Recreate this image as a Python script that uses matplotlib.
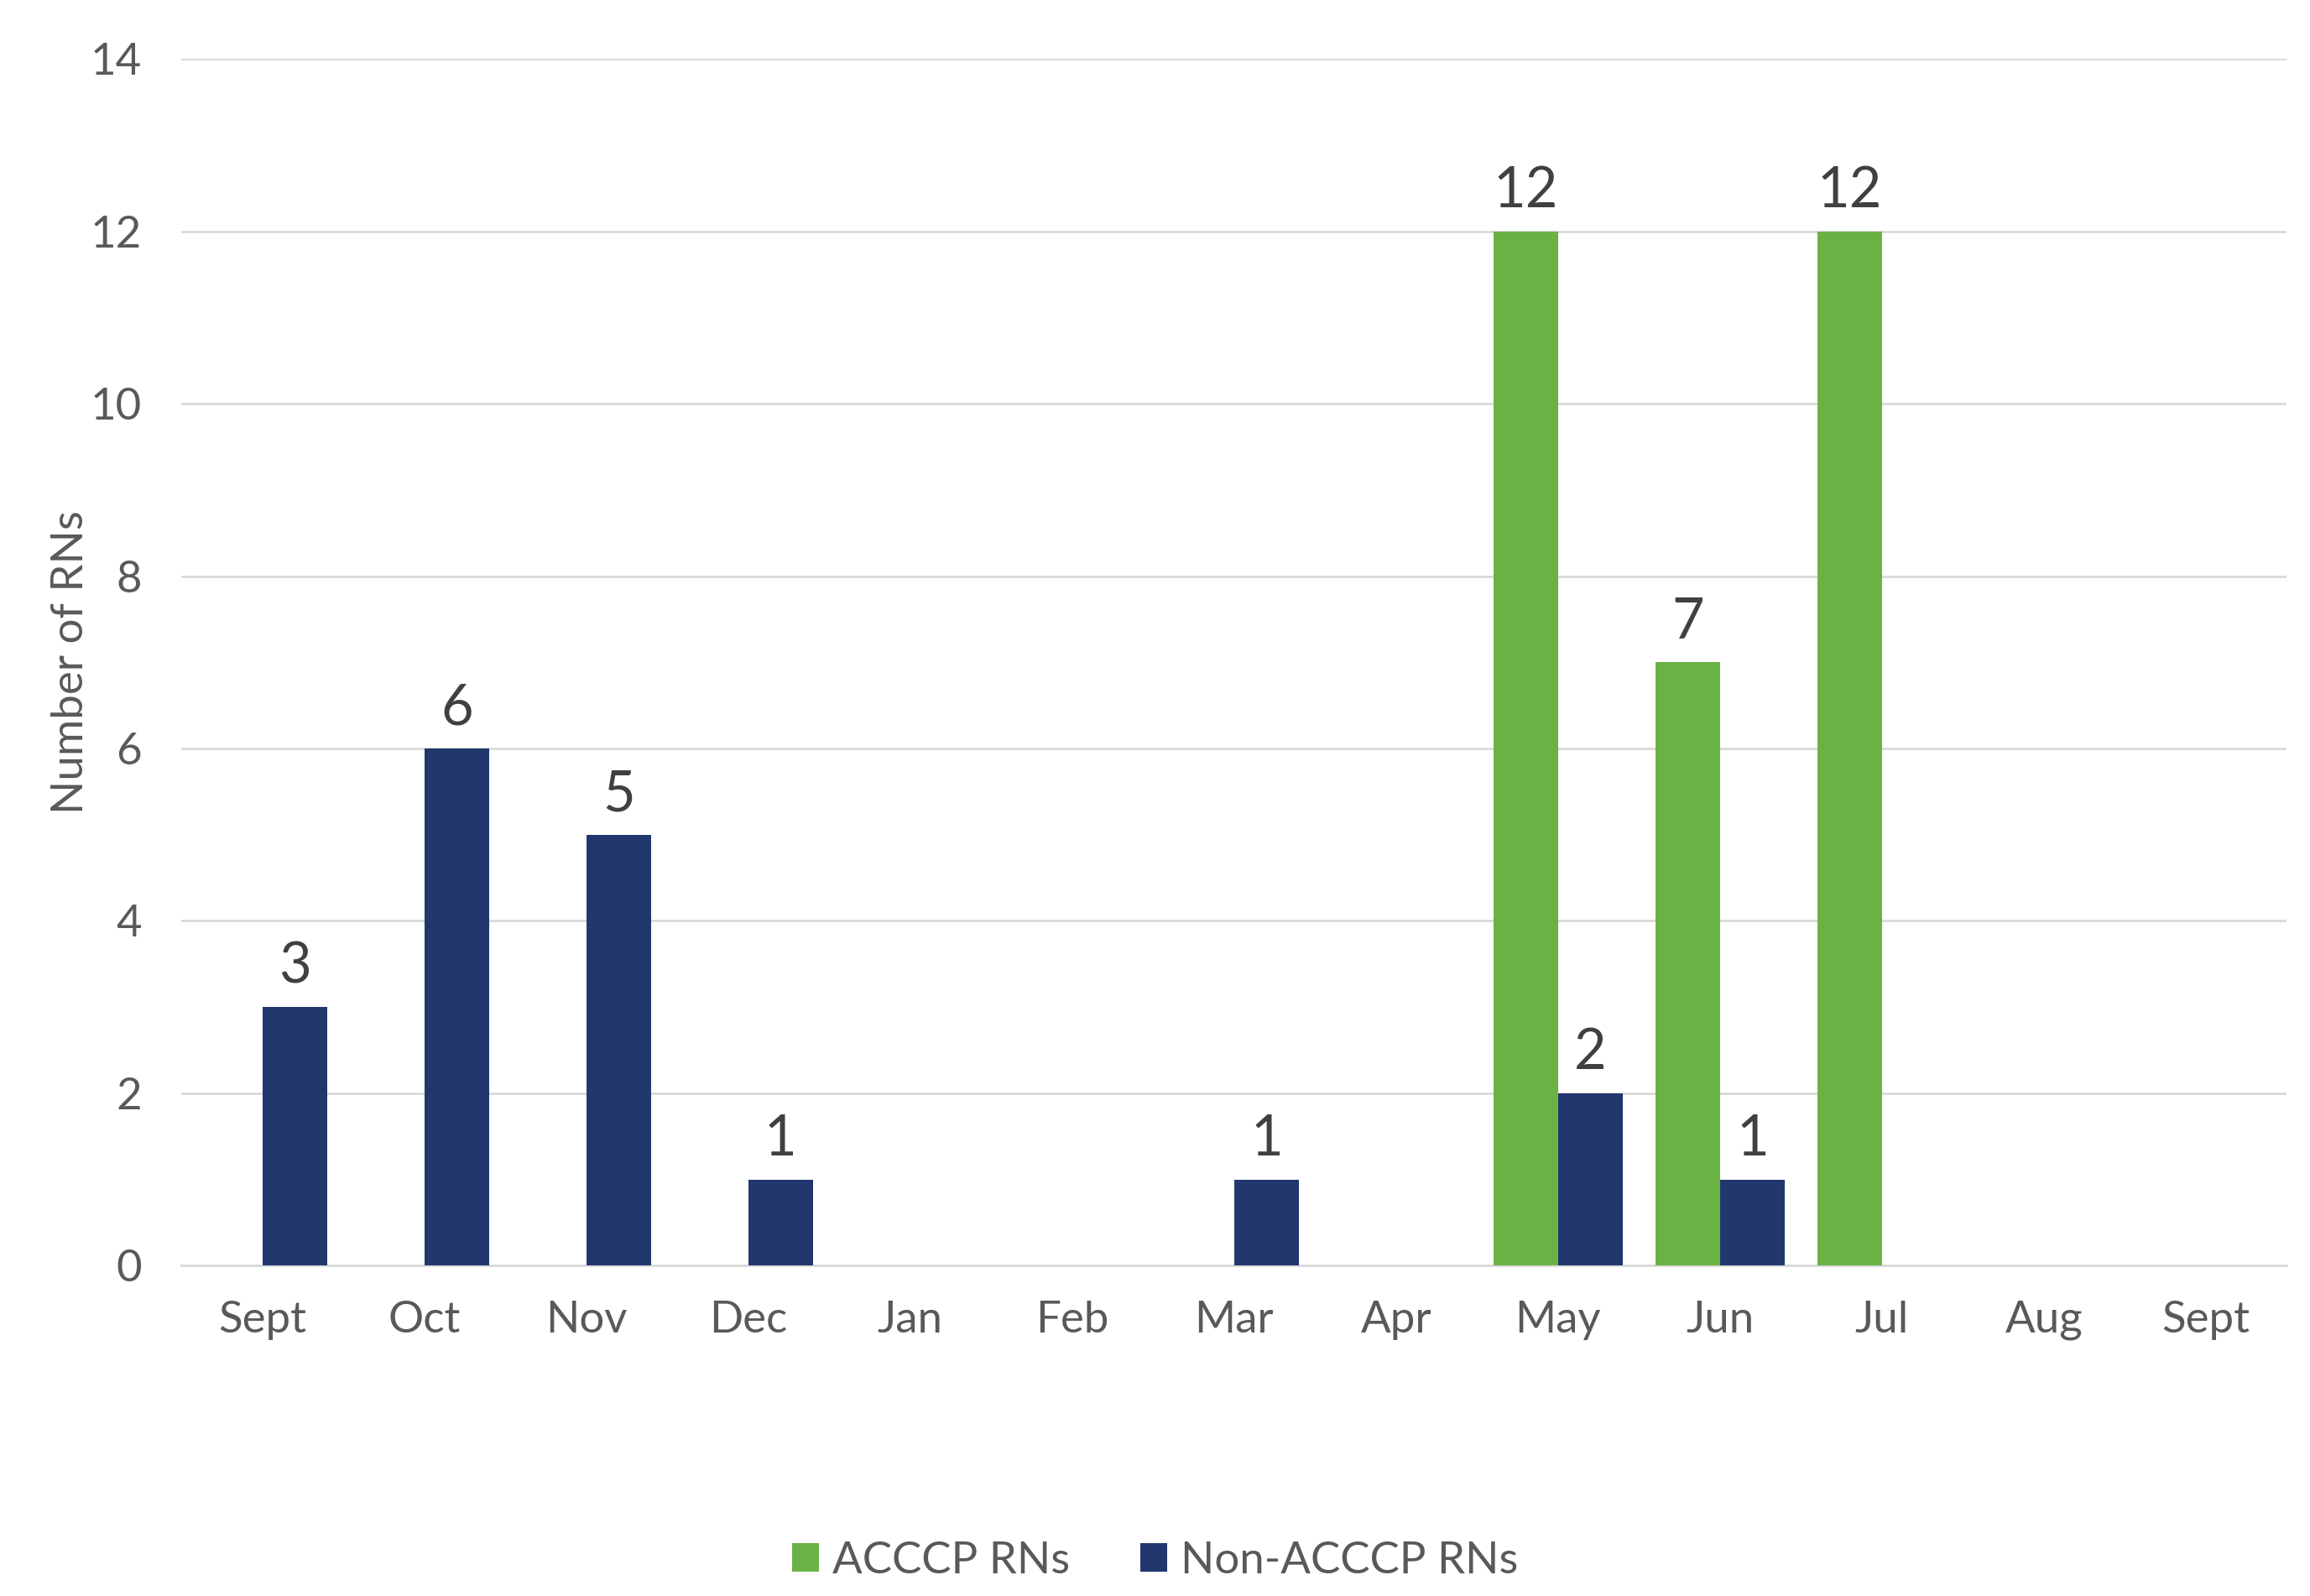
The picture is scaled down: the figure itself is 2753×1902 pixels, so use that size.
import numpy as np
import matplotlib
matplotlib.use('Agg')
import matplotlib.pyplot as plt
from matplotlib import font_manager

months = ['Sept', 'Oct', 'Nov', 'Dec', 'Jan', 'Feb', 'Mar', 'Apr',
          'May', 'Jun', 'Jul', 'Aug', 'Sept']
acccp = [0, 0, 0, 0, 0, 0, 0, 0, 12, 7, 12, 0, 0]
non_acccp = [3, 6, 5, 1, 0, 0, 1, 0, 2, 1, 0, 0, 0]

green = '#6BB244'
navy = '#21376E'
grey_txt = '#595959'

names = {f.name for f in font_manager.fontManager.ttflist}
fam = 'Lato' if 'Lato' in names else 'DejaVu Sans'
plt.rcParams['font.family'] = [fam, 'DejaVu Sans']
plt.rcParams['font.weight'] = 'normal'

fig = plt.figure(figsize=(27.53, 19.02), dpi=100)
ax = fig.add_axes([0.0785, 0.207, 0.9115, 0.756])

x = np.arange(len(months))
w = 0.4
b1 = ax.bar(x - w/2, acccp, w, color=green, label='ACCCP RNs', zorder=3)
b2 = ax.bar(x + w/2, non_acccp, w, color=navy, label='Non-ACCCP RNs', zorder=3)

ax.bar_label(b1, labels=[str(v) if v else '' for v in acccp], padding=12,
             fontsize=48, color='#404040')
ax.bar_label(b2, labels=[str(v) if v else '' for v in non_acccp], padding=12,
             fontsize=48, color='#404040')

ax.set_xlim(-0.5, len(months) - 0.5)
ax.set_ylim(0, 14)
ax.set_yticks(range(0, 15, 2))
ax.set_xticks(x)
ax.set_xticklabels(months)
ax.tick_params(axis='both', length=0, labelsize=38, labelcolor=grey_txt)
ax.tick_params(axis='x', pad=30)
ax.tick_params(axis='y', pad=34)
ax.grid(axis='y', color='#D9D9D9', linewidth=2, zorder=0)
for s in ['top', 'right', 'left']:
    ax.spines[s].set_visible(False)
ax.spines['bottom'].set_color('#D9D9D9')
ax.spines['bottom'].set_linewidth(2)

ax.set_ylabel('Number of RNs', fontsize=38, color=grey_txt)
ax.yaxis.set_label_coords(-0.043, 0.5)

fig.legend(loc='center', bbox_to_anchor=(0.5, 0.022), ncol=2, frameon=False,
           fontsize=38, labelcolor=grey_txt, handlelength=0.6, handleheight=0.6,
           handletextpad=0.3, columnspacing=1.6)

fig.savefig('out.png', dpi=100)
